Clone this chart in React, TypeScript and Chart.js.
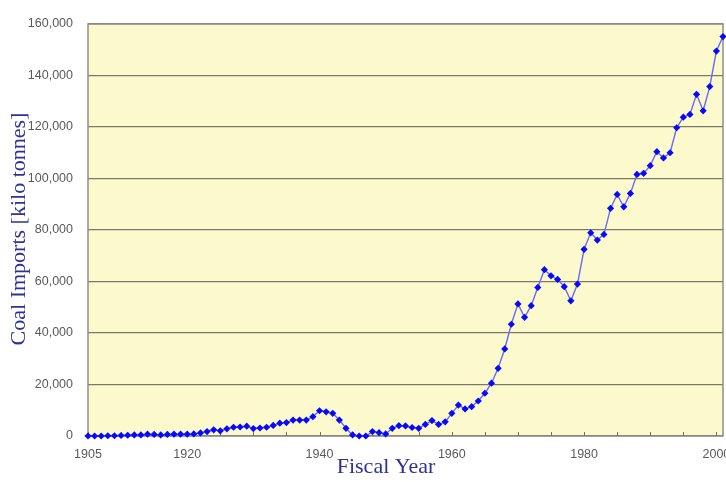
import React, { useEffect, useRef } from "react";
import { Chart, registerables } from "chart.js";

Chart.register(...registerables);

const years: number[] = [];
for (let y = 1905; y <= 2001; y++) years.push(y);

const imports: number[] = [
  0, 0, 0, 100, 100, 200, 300, 400, 400, 700, // 1905-1914
  600, 400, 600, 700, 700, 700, 800, 1200, 1700, 2400, // 1915-1924
  2000, 2800, 3400, 3500, 3800, 2900, 3100, 3400, 4100, 5000, // 1925-1934
  5200, 6200, 6200, 6200, 7500, 9800, 9400, 8800, 6200, 3000, // 1935-1944
  400, 0, 0, 1700, 1300, 800, 3000, 4000, 3900, 3300, // 1945-1954
  3000, 4500, 6000, 4500, 5500, 8800, 12000, 10500, 11400, 13600, // 1955-1964
  16600, 20500, 26300, 33800, 43400, 51300, 46100, 50600, 57700, 64600, // 1965-1974
  62200, 60800, 58000, 52500, 59000, 72500, 78900, 76100, 78300, 88400, // 1975-1984
  93800, 89000, 94200, 101600, 102000, 105000, 110400, 108000, 110000, 119700, // 1985-1994
  123800, 124900, 132700, 126300, 135700, 149500, 155100, // 1995-2001
];

const xTickLabels: number[] = [1905, 1920, 1940, 1960, 1980, 2000];
const xMinorTicks: number[] = [];
for (let y = 1905; y <= 2000; y += 5) xMinorTicks.push(y);

const yTitle = "Coal Imports [kilo tonnes]";
const xTitle = "Fiscal Year";

const frame = {
  id: "frame",
  beforeDraw(chart: any) {
    const { ctx, chartArea: a } = chart;
    ctx.save();
    ctx.fillStyle = "#FCFACC";
    ctx.fillRect(a.left, a.top, a.right - a.left, a.bottom - a.top);
    ctx.restore();
  },
  beforeDatasetsDraw(chart: any) {
    const { ctx, chartArea: a, scales } = chart;
    ctx.save();
    ctx.strokeStyle = "#8f8f8a";
    ctx.lineWidth = 1.5;
    ctx.strokeRect(a.left, a.top, a.right - a.left, a.bottom - a.top);
    ctx.strokeStyle = "#6f6f66";
    ctx.lineWidth = 1;
    for (const v of xMinorTicks) {
      const x = Math.round(scales.x.getPixelForValue(v)) + 0.5;
      ctx.beginPath();
      ctx.moveTo(x, a.bottom);
      ctx.lineTo(x, a.bottom - 4);
      ctx.stroke();
    }
    ctx.restore();
  },
  afterDraw(chart: any) {
    const { ctx } = chart;
    ctx.save();
    ctx.fillStyle = "#30309a";
    ctx.font = '22px "Liberation Serif", "Times New Roman", serif';
    ctx.textAlign = "center";
    ctx.textBaseline = "middle";
    ctx.fillText(xTitle, 386, 467);
    ctx.translate(19, 229);
    ctx.rotate(-Math.PI / 2);
    ctx.fillText(yTitle, 0, 0);
    ctx.restore();
  },
};

export default function App() {
  const ref = useRef<HTMLCanvasElement | null>(null);
  useEffect(() => {
    if (!ref.current) return;
    const chart = new Chart(ref.current, {
      type: "line",
      data: {
        datasets: [
          {
            data: years.map((y, i) => ({ x: y, y: imports[i] })),
            borderColor: "#6a6af8",
            borderWidth: 1.4,
            pointStyle: "rectRot",
            pointRadius: 3.6,
            pointBackgroundColor: "#0808ff",
            pointBorderColor: "#0808ff",
            pointBorderWidth: 0,
            clip: false as any,
          },
        ],
      },
      options: {
        animation: false,
        responsive: false,
        layout: { padding: { left: 0, right: 57, top: 24, bottom: 0 } },
        plugins: { legend: { display: false }, tooltip: { enabled: false } },
        scales: {
          x: {
            type: "linear",
            min: 1905,
            max: 2001,
            afterBuildTicks: (s: any) => {
              s.ticks = xTickLabels.map((v) => ({ value: v }));
            },
            afterFit: (s: any) => {
              s.height = 46;
            },
            ticks: {
              autoSkip: false,
              maxRotation: 0,
              padding: 7,
              color: "#5a5a5a",
              font: { family: '"Liberation Sans", Arial, sans-serif', size: 12.5 },
              callback: (v: any) => String(v),
            },
            grid: { display: false, drawTicks: true, tickLength: 4 },
            border: { display: false },
          },
          y: {
            min: 0,
            max: 160000,
            afterFit: (s: any) => {
              s.width = 88;
            },
            ticks: {
              stepSize: 20000,
              padding: 15,
              color: "#5a5a5a",
              font: { family: '"Liberation Sans", Arial, sans-serif', size: 12.5 },
              callback: (v: any) => Number(v).toLocaleString("en-US"),
            },
            grid: { color: "#7a7a6c", lineWidth: 1.3, drawTicks: false },
            border: { display: false },
          },
        },
      },
      plugins: [frame],
    });
    return () => chart.destroy();
  }, []);
  return (
    <div
      style={{
        position: "fixed",
        left: 0,
        top: 0,
        width: 726,
        height: 482,
        overflow: "hidden",
        background: "#fff",
      }}
    >
      <canvas ref={ref} width={780} height={482} style={{ display: "block" }} />
    </div>
  );
}
